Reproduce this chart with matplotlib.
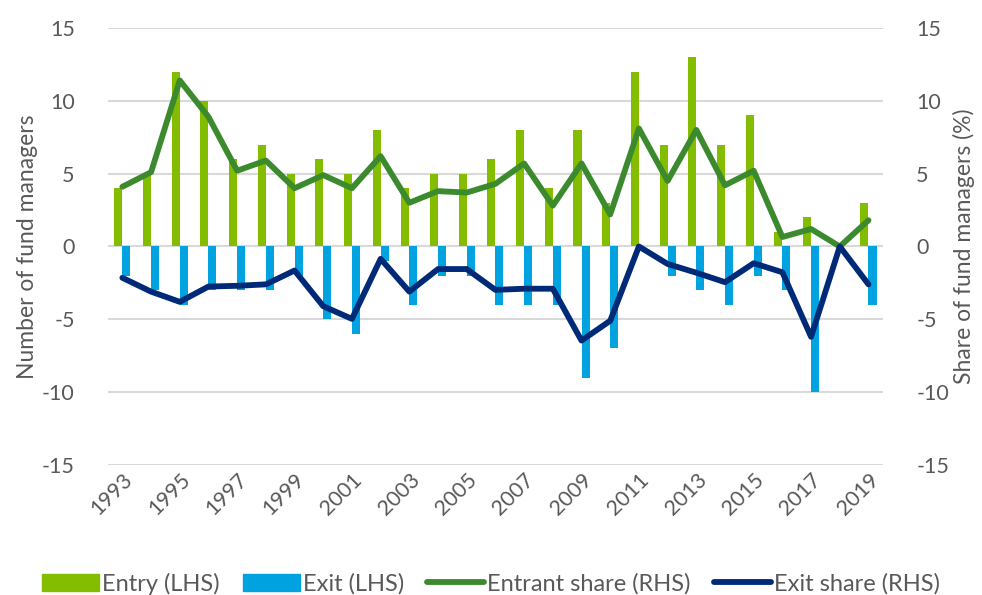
import matplotlib.pyplot as plt
import numpy as np
from matplotlib.patches import Patch
from matplotlib.lines import Line2D

plt.rcParams['font.family'] = ['Lato', 'DejaVu Sans']
plt.rcParams['axes.unicode_minus'] = False

years = list(range(1993, 2020))
entry = [4, 5, 12, 10, 6, 7, 5, 6, 5, 8, 4, 5, 5, 6, 8, 4, 8, 3, 12, 7, 13, 7, 9, 1, 2, 0, 3]
exits = [-2, -3, -4, -3, -3, -3, -2, -5, -6, -1, -4, -2, -2, -4, -4, -4, -9, -7, 0, -2, -3, -4, -2, -3, -10, 0, -4]
entrant_share = [4.1, 5.1, 11.4, 8.9, 5.2, 5.9, 4.0, 4.9, 4.0, 6.2, 3.0, 3.8, 3.7, 4.3, 5.7, 2.8, 5.7, 2.2,
                 8.1, 4.5, 8.0, 4.2, 5.2, 0.65, 1.2, 0.0, 1.8]
exit_share = [-2.15, -3.1, -3.8, -2.75, -2.7, -2.6, -1.65, -4.1, -4.97, -0.85, -3.1, -1.55, -1.55, -2.98,
              -2.9, -2.9, -6.46, -5.1, 0.0, -1.2, -1.8, -2.45, -1.15, -1.77, -6.2, 0.0, -2.6]

c_entry = '#84BD00'
c_exit = '#00A3E0'
c_eshare = '#3C8A2E'
c_xshare = '#002A77'
txt = '#595959'

fig = plt.figure(figsize=(9.82, 5.95), dpi=100)
ax = fig.add_axes([0.11, 0.2185, 0.789, 0.7345])
x = np.arange(len(years))
w = 0.28
ax.bar(x - w / 2, entry, w, color=c_entry, zorder=2)
ax.bar(x + w / 2, exits, w, color=c_exit, zorder=2)
ax.set_ylim(-15, 15)
ax.set_xlim(-0.5, len(years) - 0.5)
ax.set_yticks(range(-15, 16, 5))
ax.yaxis.grid(True, color='#D9D9D9', lw=1.5, zorder=0)
ax.set_axisbelow(True)
for s in ax.spines.values():
    s.set_visible(False)
ax.tick_params(axis='both', length=0, labelsize=15.5, labelcolor=txt)
ax.tick_params(axis='y', pad=24)
ax.set_xticks(x[::2])
ax.set_xticklabels([str(y) for y in years[::2]], rotation=45, ha='right', rotation_mode='anchor')
ax.set_ylabel('Number of fund managers', fontsize=16.5, color=txt, labelpad=3)

ax2 = ax.twinx()
ax2.plot(x, entrant_share, color=c_eshare, lw=4.2, solid_joinstyle='round', solid_capstyle='round')
ax2.plot(x, exit_share, color=c_xshare, lw=4.2, solid_joinstyle='round', solid_capstyle='round')
ax2.set_ylim(-15, 15)
ax2.set_yticks(range(-15, 16, 5))
for s in ax2.spines.values():
    s.set_visible(False)
ax2.tick_params(axis='y', length=0, labelsize=15.5, labelcolor=txt, pad=24)
ax2.set_ylabel('Share of fund managers (%)', fontsize=16.5, color=txt, labelpad=3)

handles = [Patch(color=c_entry), Patch(color=c_exit),
           Line2D([], [], color=c_eshare, lw=4.2, solid_capstyle='round'),
           Line2D([], [], color=c_xshare, lw=4.2, solid_capstyle='round')]
labels = ['Entry (LHS)', 'Exit (LHS)', 'Entrant share (RHS)', 'Exit share (RHS)']
fig.legend(handles, labels, loc='lower center', bbox_to_anchor=(0.5, -0.035), ncol=4, frameon=False,
           fontsize=17, labelcolor=txt, handlelength=2.4, handletextpad=0.13, columnspacing=1.0)

fig.savefig('out.png', dpi=100)
